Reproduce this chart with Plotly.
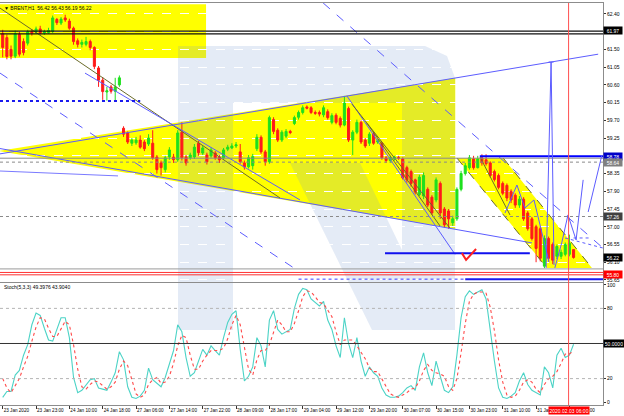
import plotly.graph_objects as go

# ---------------- data ----------------
opens = [61.90,61.80,61.50,61.33,61.88,61.70,61.66,61.95,61.94,62.02,
         61.92,61.93,61.96,62.26,62.17,62.30,62.22,62.04,61.72,61.63,
         61.63,61.70,61.55,61.03,60.72,60.42,60.55,60.44,60.60,59.50,
         59.38,59.12,59.13,59.20,59.15,59.10,59.12,58.77,58.62,58.45,
         58.77,58.77,58.70,59.40,58.77,58.75,58.77,59.12,58.87,58.82,
         58.80,58.87,58.77,58.75,58.97,59.00,59.05,58.90,58.62,58.52,
         58.55,58.98,59.27,58.90,58.65,59.72,59.45,59.20,59.30,59.42,
         59.62,59.78,59.90,60.04,60.02,59.90,59.90,59.84,59.92,59.65,
         59.83,59.75,59.58,60.00,59.20,59.40,59.65,59.20,59.12,59.35,
         59.15,59.12,58.75,58.68,58.72,58.76,58.72,58.50,58.40,58.19,
         57.82,57.78,57.95,57.75,57.68,58.10,57.45,57.40,57.10,57.20,
         57.95,58.35,58.50,58.72,58.50,58.75,58.70,58.62,58.40,58.30,
         58.10,58.05,57.90,57.80,57.55,57.70,57.35,57.20,57.00,56.95,
         56.00,56.70,56.55,56.25,56.25,56.30,56.30,56.42]
highs = [62.00,61.88,61.60,61.98,61.95,61.78,62.00,62.02,62.08,62.10,
         62.00,62.05,62.36,62.30,62.32,62.38,62.28,62.08,61.78,61.75,
         61.82,61.75,61.58,61.08,60.80,60.55,60.60,60.78,60.84,59.55,
         59.42,59.25,59.28,59.32,59.20,59.35,59.45,58.82,58.68,58.80,
         59.02,58.85,59.45,59.65,58.82,58.88,59.10,59.18,59.05,58.88,
         59.02,58.92,58.82,59.00,59.08,59.12,59.15,59.10,58.68,58.82,
         58.85,59.35,59.32,58.95,59.82,59.78,59.50,59.45,59.48,59.46,
         59.82,59.95,60.08,60.08,60.06,59.95,59.95,60.08,59.98,59.88,
         59.88,59.80,60.32,60.05,59.45,59.72,59.70,59.25,59.40,59.40,
         59.22,59.15,58.80,58.80,58.80,58.80,58.76,58.55,58.45,58.22,
         58.32,58.38,58.00,57.80,58.25,58.15,57.50,57.45,57.28,58.00,
         58.42,58.62,58.82,58.80,58.80,58.84,58.84,58.66,58.45,58.35,
         58.15,58.10,57.95,57.85,57.78,57.75,57.40,57.25,57.05,57.00,
         56.78,56.75,56.60,56.55,56.42,56.60,56.80,56.43]
lows = [61.30,61.25,61.25,61.28,61.32,61.35,61.60,61.85,61.90,61.88,
        61.87,61.90,61.92,62.12,62.12,62.20,62.00,61.62,61.55,61.55,
        61.58,61.48,61.00,60.55,60.22,60.20,60.38,60.20,60.55,59.28,
        59.10,59.05,59.08,58.98,58.92,59.05,58.70,58.35,58.30,58.38,
        58.70,58.62,58.65,58.68,58.55,58.70,58.72,58.80,58.82,58.58,
        58.75,58.70,58.62,58.70,58.92,58.97,59.00,58.60,58.45,58.48,
        58.45,58.92,58.85,58.55,58.60,59.35,59.15,59.15,59.25,59.35,
        59.58,59.72,59.85,59.98,59.86,59.84,59.80,59.78,59.72,59.60,
        59.60,59.52,59.55,59.15,58.82,59.35,59.10,59.00,59.05,59.08,
        59.10,58.70,58.62,58.62,58.68,58.70,58.20,58.12,58.02,57.82,
        57.78,57.70,57.50,57.30,57.62,57.20,56.98,56.95,57.02,57.15,
        57.90,58.30,58.45,58.45,58.48,58.55,58.55,58.25,58.15,57.95,
        57.80,57.65,57.60,57.48,57.48,57.15,56.90,56.65,56.10,56.12,
        55.95,56.12,56.05,56.18,56.18,56.25,56.25,56.19]
closes = [61.55,61.32,61.33,61.90,61.38,61.42,61.95,61.92,62.02,61.92,
          61.95,61.98,62.30,62.18,62.27,62.25,62.04,61.70,61.63,61.68,
          61.70,61.55,61.07,60.72,60.43,60.45,60.44,60.55,60.78,59.35,
          59.15,59.20,59.20,59.02,58.98,59.25,58.75,58.45,58.50,58.75,
          58.95,58.70,59.38,58.75,58.62,58.82,59.02,58.88,59.00,58.65,
          58.95,58.75,58.70,58.95,59.02,59.05,59.08,58.65,58.52,58.75,
          58.78,59.27,58.90,58.65,59.77,59.42,59.20,59.40,59.42,59.39,
          59.77,59.90,60.02,60.01,59.90,59.88,59.86,60.02,59.77,59.82,
          59.65,59.58,60.14,59.20,59.40,59.65,59.15,59.05,59.35,59.12,
          59.18,58.75,58.68,58.75,58.77,58.74,58.24,58.19,58.10,57.88,
          58.26,58.30,57.55,57.35,58.19,57.35,57.05,57.20,57.20,57.95,
          58.35,58.55,58.75,58.50,58.72,58.62,58.60,58.30,58.20,58.00,
          57.85,57.73,57.68,57.55,57.70,57.20,56.95,56.70,56.45,56.20,
          56.70,56.20,56.15,56.50,56.35,56.55,56.58,56.22]
stoch_k = [4,9,9,23,27,40,49,66,76,74, 63,53,52,63,72,72,55,21,8,10,
           15,19,20,12,11,10,17,25,43,36, 13,4,3,5,10,29,19,16,13,21,
           33,44,66,60,38,22,25,36,45,40, 48,44,40,55,68,75,78,45,18,22,
           30,55,48,30,70,78,62,58,60,62, 80,92,97,96,88,85,82,86,70,62,
           48,38,72,50,38,55,35,22,30,25, 22,12,6,4,4,5,8,12,14,10,
           30,42,25,14,35,22,10,8,13,40, 72,90,95,92,94,96,88,60,35,12,
           4,3,5,8,18,25,15,10,8,6, 30,25,12,40,46,38,40,49.3976]
stoch_d = [20,12,8,14,20,30,39,52,64,72, 71,63,56,56,62,69,66,49,28,13,
           11,15,18,17,14,11,13,17,28,35, 31,18,7,4,6,15,19,21,16,17,
           22,33,48,57,55,40,28,28,35,40, 44,44,44,46,54,66,74,66,47,28,
           23,36,44,44,49,59,70,66,60,60, 67,78,90,95,94,90,85,84,79,73,
           60,49,53,53,53,48,43,37,29,26, 26,20,13,7,5,4,6,8,11,12,
           18,27,32,27,25,24,22,13,10,20, 42,67,86,92,94,94,93,81,61,36,
           17,6,4,5,10,17,19,17,11,8, 15,20,22,26,33,41,41,43.9040]
x_tick_bars = [0,8,16,24,32,40,48,56,64,72,80,88,96,104,112,120,128,136]
x_tick_labels = ["23 Jan 2020","23 Jan 23:00","24 Jan 10:00","24 Jan 18:00",
                 "27 Jan 06:00","27 Jan 14:00","27 Jan 22:00","28 Jan 09:00",
                 "28 Jan 17:00","29 Jan 04:00","29 Jan 12:00","29 Jan 20:00",
                 "30 Jan 07:00","30 Jan 15:00","30 Jan 23:00","31 Jan 10:00",
                 "31 Jan 18:00","3 Feb 06:00"]
price_ticks = [62.40,61.95,61.50,61.05,60.60,60.15,59.70,59.25,58.80,58.35,
               57.90,57.45,57.00,56.55,56.10,55.65]
stoch_ticks = [0,20,80,100]
price_tags = [(61.97,"#000000"),(58.78,"#0000c8"),(58.64,"#808080"),
              (57.26,"#404040"),(56.22,"#000000"),(55.80,"#ff0000")]
header = "▼ BRENT,H1  56.42 56.43 56.19 56.22"
stoch_label = "Stoch(5,3,3) 49.3976 43.9040"

bars = list(range(len(closes)))
GREEN = "#1ee01e"
RED = "#ff1a1a"
FONT = "Liberation Sans, Arial, sans-serif"
XR = [-0.648, 144.06]
YR = [55.598, 62.679]
Y2R = [-2.56, 101.7]

fig = go.Figure()
fig.add_trace(go.Candlestick(
    x=bars, open=opens, high=highs, low=lows, close=closes,
    xaxis="x", yaxis="y", whiskerwidth=0, hoverinfo="skip",
    increasing=dict(line=dict(color=GREEN, width=1), fillcolor=GREEN),
    decreasing=dict(line=dict(color=RED, width=1), fillcolor=RED)))
fig.add_trace(go.Scatter(x=bars, y=stoch_k, xaxis="x2", yaxis="y2", mode="lines",
                         line=dict(color="#4cd3c6", width=1.1), hoverinfo="skip"))
fig.add_trace(go.Scatter(x=bars, y=stoch_d, xaxis="x2", yaxis="y2", mode="lines",
                         line=dict(color="#ff4a4a", width=1.1, dash="dot"), hoverinfo="skip"))

shapes = []

def poly(pts, fill, yref="y", xref="x", layer="below"):
    d = "M " + " L ".join(f"{x:.3f},{y:.4f}" for x, y in pts) + " Z"
    shapes.append(dict(type="path", path=d, xref=xref, yref=yref, fillcolor=fill,
                       line=dict(width=0), layer=layer))

def pline(pts, color, width=1, dash="solid", yref="y"):
    d = "M " + " L ".join(f"{x:.3f},{y:.4f}" for x, y in pts)
    shapes.append(dict(type="path", path=d, xref="x", yref=yref,
                       fillcolor="rgba(0,0,0,0)", line=dict(color=color, width=width, dash=dash),
                       layer="above"))

def seg(x0, y0, x1, y1, color, width=1, dash="solid", yref="y"):
    shapes.append(dict(type="line", x0=x0, y0=y0, x1=x1, y1=y1, xref="x", yref=yref,
                       line=dict(color=color, width=width, dash=dash), layer="above"))

# yellow areas (bar index, price)
YEL = "#ffff00"
poly([(-1, 61.28), (48.8, 61.28), (48.8, 62.65), (-1, 62.65)], YEL)
poly([(-1, 58.92), (108.6, 60.775), (108.6, 56.94)], YEL)
poly([(109.0, 58.745), (120.1, 58.745), (141.4, 55.955), (130.6, 55.955)], YEL)

# faint watermark "R" (screen units converted to each panel's axes)
def wm_main(px, py):
    return ((px - 2.7) / 4.167, 62.755 - py / 39.4)

def wm_stoch(px, py):
    return ((px - 2.7) / 4.167, (402 - py) / 1.17)

R_PARTS = [
    [(178, 46), (233, 46), (233, 330), (178, 330)],
    [(233, 46), (425, 46), (447, 56), (455, 78), (455, 103), (233, 103)],
    [(402, 103), (455, 103), (455, 330), (402, 330)],
    [(290, 163), (360, 163), (402, 250), (402, 330), (372, 330)],
]
WM = "rgba(110,150,205,0.19)"
for part in R_PARTS:
    poly([wm_main(*p) for p in part], WM, yref="y")
    poly([wm_stoch(*p) for p in part], WM, yref="y2")

BL = "#5c5cff"
OL = "#6b6b2a"
# trend / channel lines
seg(-0.65, 58.85, 142.9, 61.38, BL)
seg(-0.65, 58.985, 127.0, 56.59, BL)
seg(-0.65, 62.55, 66.55, 57.73, OL)
seg(19.75, 60.90, 71.35, 57.68, BL)
seg(-0.65, 60.90, 71.35, 55.85, BL, dash="dash")
seg(82.6, 60.32, 108.55, 56.30, BL)
seg(83.8, 60.115, 107.3, 56.97, OL)
seg(87.2, 59.66, 104.95, 57.02, OL)
seg(76.9, 62.68, 144.06, 56.46, BL, dash="dash")
seg(114.55, 58.77, 121.74, 57.30, OL)
seg(109.0, 58.745, 130.6, 55.955, OL, dash="dash")
seg(120.1, 58.745, 141.4, 55.955, OL, dash="dash")
# horizontal levels
seg(-0.65, 60.19, 33.0, 60.19, "#1a1aee", width=2, dash="dot")
seg(-0.65, 58.415, 27.67, 58.29, "#7a7aff")
seg(-0.65, 61.965, 144.06, 61.965, "#111111", width=1.4)
seg(-0.65, 61.895, 144.06, 61.895, "#111111", width=1.4)
seg(-0.65, 58.74, 144.06, 58.74, "#8a8a8a")
seg(-0.65, 58.64, 144.06, 58.64, "#8a8a8a", dash="dot")
seg(114.5, 58.79, 144.06, 58.79, "#0000ff", width=2)
seg(-0.65, 57.26, 144.06, 57.26, "#8a8a8a", dash="dot")
seg(91.75, 56.33, 126.5, 56.33, "#1010ee", width=2)
seg(-0.65, 55.93, 144.06, 55.93, "#9a9a9a")
seg(-0.65, 55.84, 144.06, 55.84, "#ff3030")
seg(-0.65, 55.78, 144.06, 55.78, "#ff3030")
seg(71.0, 55.67, 111.0, 55.67, "#3a3aff", dash="dot")
seg(111.0, 55.67, 144.06, 55.67, "#1a1aee", width=2)
# check mark
pline([(110.2, 56.33), (111.2, 56.16), (113.6, 56.435)], "#ff2020", width=2)
# projection zigzags
pline([(130.4, 55.955), (131.6, 61.18), (132.3, 56.03)], BL)
seg(131.0, 61.18, 132.2, 61.18, BL)
pline([(120.55, 57.35), (123.4, 58.06), (125.3, 57.475), (127.5, 57.68), (131.1, 56.105)], BL)
pline([(132.5, 55.955), (134.2, 56.61), (135.65, 57.30), (137.6, 56.665), (139.3, 58.19)], BL)
seg(140.5, 57.375, 143.8, 58.82, BL)
seg(134.95, 56.715, 144.06, 56.46, BL, dash="dot")
seg(137.0, 56.715, 141.0, 56.715, BL, dash="dot")

# stochastic levels
seg(-0.65, 80, 144.06, 80, "#b4b4b4", dash="dot", yref="y2")
seg(-0.65, 20, 144.06, 20, "#b4b4b4", dash="dot", yref="y2")
seg(-0.65, 50, 144.06, 50, "#333333", width=1, yref="y2")

# red vertical time line
shapes.append(dict(type="line", x0=135.8, x1=135.8, y0=0, y1=1, xref="x", yref="paper",
                   line=dict(color="#ff5050", width=1), layer="above"))

annotations = []
for val, col in price_tags:
    annotations.append(dict(x=1, xref="paper", xanchor="left", y=val, yref="y",
                            text=f"{val:.2f}", showarrow=False, bgcolor=col, width=17,
                            borderpad=0.5, font=dict(color="white", size=5, family=FONT)))
annotations.append(dict(x=1, xref="paper", xanchor="left", y=50, yref="y2",
                        text="50.0000", showarrow=False, bgcolor="#000000", width=19,
                        borderpad=0.5, font=dict(color="white", size=5, family=FONT)))
annotations.append(dict(x=135.8, xref="x2", y=0, yref="paper", yanchor="top", yshift=-1,
                        text="2020.02.03 06:00", showarrow=False, bgcolor="#ff0000",
                        borderpad=0.5, font=dict(color="white", size=5, family=FONT)))
annotations.append(dict(x=0.004, xref="paper", xanchor="left", y=0.999, yref="paper",
                        yanchor="top", text=header, showarrow=False,
                        font=dict(color="#000000", size=5, family=FONT)))
annotations.append(dict(x=0.004, xref="paper", xanchor="left", y=0.2935, yref="paper",
                        yanchor="middle", text=stoch_label, showarrow=False,
                        font=dict(color="#000000", size=5, family=FONT)))

AX = dict(showline=True, mirror=True, linecolor="#8c8c8c", linewidth=1, zeroline=False)
fig.update_layout(
    width=624, height=416, showlegend=False,
    margin=dict(l=0, r=21, t=3, b=11, pad=0),
    paper_bgcolor="white", plot_bgcolor="white",
    font=dict(family=FONT, size=5, color="#000000"),
    xaxis=dict(domain=[0, 1], range=XR, anchor="y", showticklabels=False, ticks="",
               showgrid=False, rangeslider=dict(visible=False), **AX),
    xaxis2=dict(domain=[0, 1], range=XR, anchor="y2", matches="x", showgrid=False,
                tickmode="array", tickvals=x_tick_bars, ticktext=x_tick_labels,
                ticks="outside", ticklen=3, tickcolor="#333333", tickangle=0,
                ticklabelposition="outside right", tickfont=dict(size=4.6), **AX),
    yaxis=dict(domain=[0.306, 1], range=YR, side="right", tickmode="array",
               tickvals=price_ticks, ticktext=[f"{v:.2f}" for v in price_ticks],
               ticks="outside", ticklen=2, tickcolor="#333333", tickfont=dict(size=5),
               showgrid=True, gridcolor="#ffffff", griddash="dash", gridwidth=1, **AX),
    yaxis2=dict(domain=[0, 0.3035], range=Y2R, side="right", tickmode="array",
                tickvals=stoch_ticks, ticktext=[str(v) for v in stoch_ticks],
                ticks="outside", ticklen=2, tickcolor="#333333", tickfont=dict(size=5),
                showgrid=False, **AX),
    shapes=shapes, annotations=annotations,
)
fig.write_html("out.html", config={"displayModeBar": False},
               post_script="document.body.style.margin='0px';document.body.style.overflow='hidden';")
